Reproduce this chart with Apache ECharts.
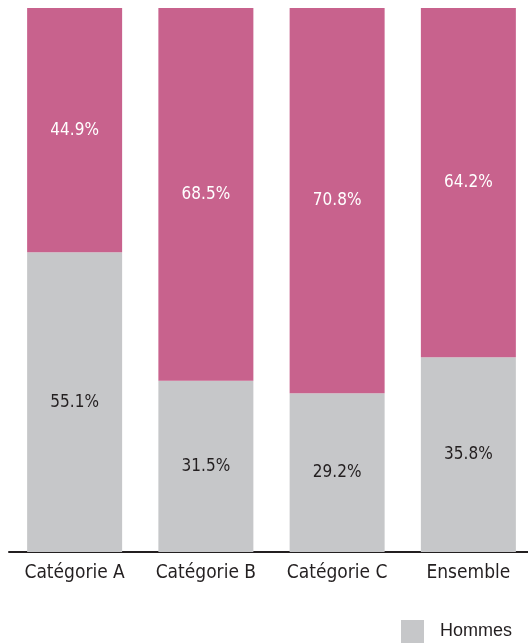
<!DOCTYPE html>
<html>
<head>
<meta charset="utf-8">
<script src="https://cdn.jsdelivr.net/npm/echarts@6/dist/echarts.min.js"></script>
<style>
html,body{margin:0;padding:0;background:#fff;overflow:hidden;}
#chart{width:534px;height:643px;}
</style>
</head>
<body>
<div id="chart"></div>
<script>
const categories = ['Catégorie A', 'Catégorie B', 'Catégorie C', 'Ensemble'];
const hommes = [55.1, 31.5, 29.2, 35.8];
const femmes = [44.9, 68.5, 70.8, 64.2];
const seriesNames = ['Hommes', 'Femmes'];

const chart = echarts.init(document.getElementById('chart'), null, {renderer: 'canvas'});
const labelFont = '"DejaVu Sans Condensed", "DejaVu Sans", sans-serif';
const fmt = p => p.value.toFixed(1) + '%';

chart.setOption({
  animation: false,
  grid: {left: 9, right: 0, top: 8, bottom: 91, containLabel: false},
  legend: {
    data: seriesNames,
    orient: 'vertical',
    left: 401,
    top: 620,
    height: 200,
    padding: 0,
    itemWidth: 23,
    itemHeight: 23,
    itemGap: 10,
    icon: 'rect',
    textStyle: {fontFamily: '"Liberation Sans", Arial, sans-serif', fontSize: 18, color: '#231F20', padding: [2, 0, 0, 11]}
  },
  xAxis: {
    type: 'category',
    data: categories,
    axisLine: {show: true, lineStyle: {color: '#231F20', width: 2}},
    axisTick: {show: false},
    axisLabel: {interval: 0, fontFamily: labelFont, fontStyle: 'condensed', fontSize: 19, color: '#231F20', margin: 12}
  },
  yAxis: {
    type: 'value',
    min: 0,
    max: 100,
    show: false,
    splitLine: {show: false}
  },
  series: [
    {
      name: seriesNames[0],
      type: 'bar',
      stack: 'total',
      barWidth: 95,
      data: hommes,
      itemStyle: {color: '#C6C7C9'},
      label: {show: true, position: 'inside', formatter: fmt, fontFamily: labelFont, fontStyle: 'condensed', fontSize: 17, color: '#231F20'}
    },
    {
      name: seriesNames[1],
      type: 'bar',
      stack: 'total',
      barWidth: 95,
      data: femmes,
      itemStyle: {color: '#C8628D'},
      label: {show: true, position: 'inside', formatter: fmt, fontFamily: labelFont, fontStyle: 'condensed', fontSize: 17, color: '#FFFFFF'}
    }
  ]
});
</script>
</body>
</html>
